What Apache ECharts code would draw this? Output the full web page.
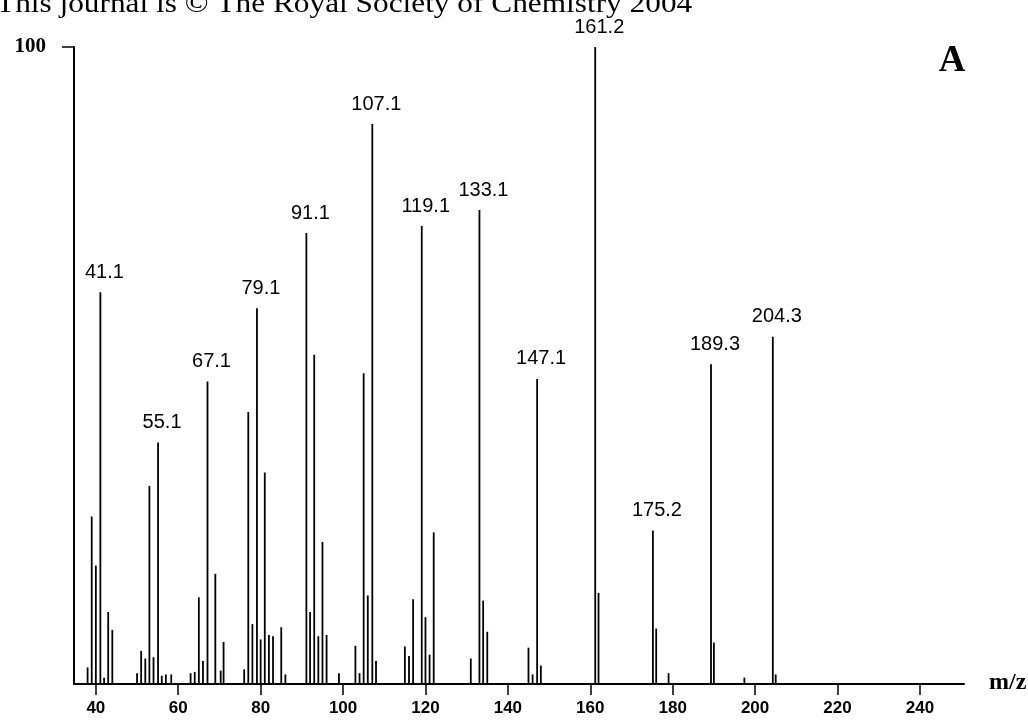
<!DOCTYPE html>
<html>
<head>
<meta charset="utf-8">
<script src="https://cdn.jsdelivr.net/npm/echarts@6/dist/echarts.min.js"></script>
<style>
  html, body { margin: 0; padding: 0; background: #fff; }
  #chart { width: 1028px; height: 720px; }
</style>
</head>
<body>
<div id="chart"></div>
<script>
// Labelled fragment ions (m/z and relative intensity, %)
const labelledMz = [41.1, 55.1, 67.1, 79.1, 91.1, 107.1, 119.1, 133.1, 147.1, 161.2, 175.2, 189.3, 204.3];
const labelledInt = [61.5, 37.9, 47.5, 59.0, 70.8, 87.9, 71.9, 74.4, 47.9, 100, 24.1, 50.2, 54.5];

// Minor ions without a label
const minorMz = [38, 39, 40, 42, 43, 44, 50, 51, 52, 53, 54, 56, 57, 58.3, 63, 64, 65, 66, 69, 70.3, 71,
  76, 77, 78, 80, 81, 82, 83, 85, 86, 92, 93, 94, 95, 96, 99, 103, 104, 105, 106, 108,
  115, 116, 117, 120, 121, 122, 131, 134, 135, 145, 146, 148, 162, 176, 179, 190, 197.4, 205];
const minorInt = [2.6, 26.3, 18.6, 1.0, 11.3, 8.5, 1.7, 5.2, 4.0, 31.1, 4.2, 1.3, 1.5, 1.5, 1.7, 1.9, 13.6, 3.6, 17.3, 2.1, 6.6,
  2.3, 42.7, 9.4, 7.0, 33.2, 7.7, 7.5, 8.9, 1.5, 11.3, 51.7, 7.5, 22.3, 7.7, 1.7, 6.0, 1.7, 48.8, 13.9, 3.6,
  5.9, 4.4, 13.3, 10.5, 4.6, 23.8, 4.0, 13.1, 8.2, 5.7, 1.5, 2.9, 14.3, 8.7, 1.7, 6.5, 1.0, 1.5];

// Axis tick labels
const xTicks = [40, 60, 80, 100, 120, 140, 160, 180, 200, 220, 240];
const yTicks = [100];

const peaks = [];
minorMz.forEach((mz, i) => peaks.push({ value: [mz, minorInt[i]] }));
labelledMz.forEach((mz, i) => peaks.push({
  value: [mz, labelledInt[i]],
  label: { show: true, formatter: mz.toFixed(1) }
}));

const chart = echarts.init(document.getElementById('chart'), null, { renderer: 'canvas' });

chart.setOption({
  animation: false,
  backgroundColor: '#fff',
  grid: { left: 74, right: 64, top: 47, bottom: 36, containLabel: false, outerBoundsMode: 'none' },
  xAxis: {
    type: 'value',
    min: 34.7,
    max: 250.7,
    splitLine: { show: false },
    axisLine: { show: true, lineStyle: { color: '#000', width: 2 } },
    axisTick: { show: true, customValues: xTicks, length: 11, lineStyle: { color: '#000', width: 1.5 } },
    axisLabel: {
      customValues: xTicks, margin: 16, color: '#000',
      fontFamily: '"Liberation Sans", Arial, sans-serif', fontWeight: 'bold', fontSize: 17
    }
  },
  yAxis: {
    type: 'value',
    min: 0,
    max: 100,
    splitLine: { show: false },
    axisLine: { show: true, lineStyle: { color: '#000', width: 2 } },
    axisTick: { show: true, customValues: yTicks, length: 12, lineStyle: { color: '#000', width: 1.5 } },
    axisLabel: {
      customValues: yTicks, margin: 28, color: '#000',
      fontFamily: '"Liberation Serif", "Times New Roman", serif', fontWeight: 'bold', fontSize: 21
    }
  },
  series: [{
    type: 'bar',
    barWidth: 1.8,
    itemStyle: { color: '#000' },
    label: {
      position: 'top',
      distance: 10,
      offset: [4, 0],
      color: '#000',
      fontFamily: '"Liberation Sans", Arial, sans-serif',
      fontSize: 20
    },
    data: peaks
  }],
  graphic: [
    {
      type: 'text', x: -4, y: 5, scaleX: 1.16,
      style: {
        text: 'This journal is © The Royal Society of Chemistry 2004',
        font: '27px "Liberation Serif", "Times New Roman", serif',
        fill: '#000', textAlign: 'left', textVerticalAlign: 'middle'
      }
    },
    {
      type: 'text', x: 952, y: 61,
      style: {
        text: 'A',
        font: 'bold 37px "Liberation Serif", "Times New Roman", serif',
        fill: '#000', textAlign: 'center', textVerticalAlign: 'middle'
      }
    },
    {
      type: 'text', x: 989, y: 683,
      style: {
        text: 'm/z',
        font: 'bold 24px "Liberation Serif", "Times New Roman", serif',
        fill: '#000', textAlign: 'left', textVerticalAlign: 'middle'
      }
    }
  ]
});
</script>
</body>
</html>
